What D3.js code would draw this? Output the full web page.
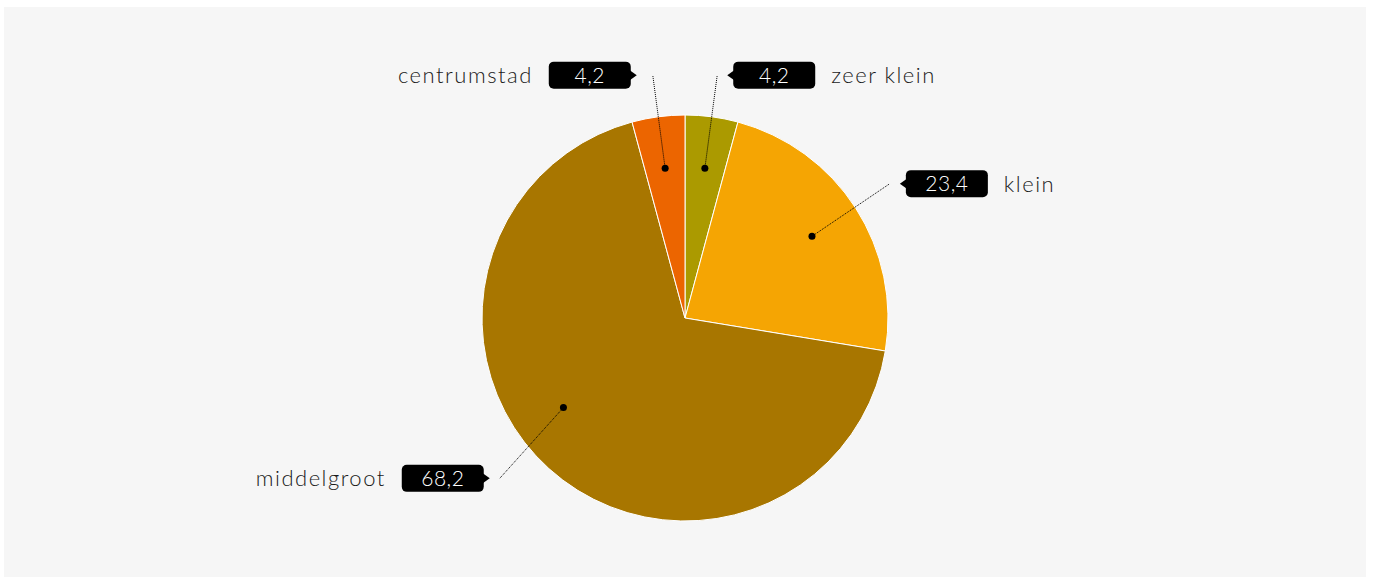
<!DOCTYPE html>
<html><head><meta charset="utf-8">
<script src="https://cdn.jsdelivr.net/npm/d3@7"></script>
<style>html,body{margin:0;padding:0;background:#fff;}svg{display:block;}</style>
</head><body>
<svg id="chart" width="1373" height="577"></svg>
<script>
const categories = ["zeer klein", "klein", "middelgroot", "centrumstad"];
const values = [4.2, 23.4, 68.2, 4.2];
const valueLabels = ["4,2", "23,4", "68,2", "4,2"];
const colors = ["#ab9a00", "#f5a503", "#a87600", "#ec6500"];

const W = 1373, H = 577;
const svg = d3.select("#chart");
svg.append("rect").attr("x", 4).attr("y", 7).attr("width", 1362).attr("height", 570).attr("fill", "#f6f6f6");

const cx = 685, cy = 318, R = 203;
const FONT = "Lato, 'Open Sans', sans-serif";
// label layout tweaks per slice index: dot shift (deg), anchor shift (deg), gap to pointer (px)
const dotShift = [0, 0, 11.5, 0];
const endShift = [0, -0.5, 7, 0];
const tipGap = [10, 10, 10, 16];

const pie = d3.pie().value(d => d).sort(null);
const arcs = pie(values);
const arc = d3.arc().innerRadius(0).outerRadius(R);
const g = svg.append("g").attr("transform", `translate(${cx},${cy})`);
g.selectAll("path").data(arcs).join("path")
  .attr("d", arc).attr("fill", (d, i) => colors[i])
  .attr("stroke", "#fff").attr("stroke-width", 1);

const rad = a => a * Math.PI / 180;
const pt = (ang, r) => [r * Math.sin(ang), -r * Math.cos(ang)];

arcs.forEach((d, i) => {
  const mid = (d.startAngle + d.endAngle) / 2;
  const dot = pt(mid + rad(dotShift[i]), 151);
  const end = pt(mid + rad(endShift[i]), 245);
  const right = end[0] >= 0;
  g.append("line").attr("x1", dot[0]).attr("y1", dot[1]).attr("x2", end[0]).attr("y2", end[1])
    .attr("stroke", "#000").attr("stroke-width", 1).attr("stroke-dasharray", "1,1");
  g.append("circle").attr("cx", dot[0]).attr("cy", dot[1]).attr("r", 3.5).attr("fill", "#000");
  const dir = right ? 1 : -1;
  const tipX = end[0] + dir * tipGap[i], y = end[1];
  const bw = 82, bh = 27, rr = 5;
  const bx0 = right ? tipX + 6 : tipX - 6 - bw;
  const lg = g.append("g");
  lg.append("rect").attr("x", bx0).attr("y", y - bh / 2).attr("width", bw).attr("height", bh)
    .attr("rx", rr).attr("fill", "#000");
  const bxEdge = right ? bx0 : bx0 + bw;
  lg.append("path").attr("d", `M${tipX},${y} L${bxEdge + dir * 1},${y - 5} L${bxEdge + dir * 1},${y + 5} Z`).attr("fill", "#000");
  lg.append("text").attr("x", bx0 + bw / 2).attr("y", y).attr("dy", "0.36em")
    .attr("text-anchor", "middle").attr("fill", "#fff")
    .style("font-family", FONT).style("font-size", "21px").style("font-weight", 300)
    .style("letter-spacing", "0.5px")
    .text(valueLabels[i]);
  lg.append("text").attr("x", right ? bx0 + bw + 16 : bx0 - 16).attr("y", y).attr("dy", "0.36em")
    .attr("text-anchor", right ? "start" : "end").attr("fill", "#1a1a1a")
    .style("font-family", FONT).style("font-size", "22px").style("font-weight", 300)
    .style("letter-spacing", "1.5px")
    .text(categories[i]);
});
</script>
</body></html>
